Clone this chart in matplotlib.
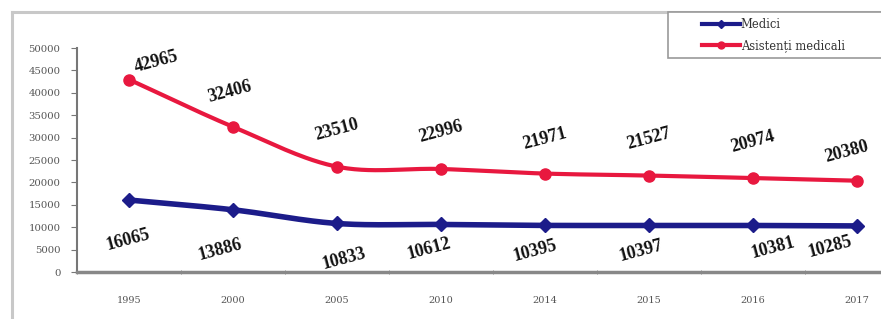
import numpy as np
import matplotlib
matplotlib.use("Agg")
import matplotlib.pyplot as plt
from matplotlib.lines import Line2D
from matplotlib.patches import Rectangle

years = ["1995", "2000", "2005", "2010", "2014", "2015", "2016", "2017"]
medici = [16065, 13886, 10833, 10612, 10395, 10397, 10381, 10285]
asistenti = [42965, 32406, 23510, 22996, 21971, 21527, 20974, 20380]
yticks = [0, 5000, 10000, 15000, 20000, 25000, 30000, 35000, 40000, 45000, 50000]
series_names = ["Medici", "Asistenți medicali"]

# label offsets in pixels (style only)
red_off = [(27, 18), (-3, 35), (0, 37), (0, 37), (0, 35), (0, 37), (0, 36), (-10, 29)]
blue_off = [(-1, -40), (-13, -40), (7, -35), (-12, -24), (-10, -25), (-8, -25), (20, -22), (-27, -21)]


def smooth(x, y, n=30):
    x = np.asarray(x, float)
    y = np.asarray(y, float)
    px = np.concatenate([[2 * x[0] - x[1]], x, [2 * x[-1] - x[-2]]])
    py = np.concatenate([[2 * y[0] - y[1]], y, [2 * y[-1] - y[-2]]])
    xs, ys = [], []
    t = np.linspace(0, 1, n, endpoint=False)
    for i in range(1, len(px) - 2):
        p0, p1, p2, p3 = (np.array([px[j], py[j]]) for j in range(i - 1, i + 3))
        t2, t3 = t * t, t * t * t
        pts = 0.5 * ((2 * p1)[:, None] + (-p0 + p2)[:, None] * t
                     + (2 * p0 - 5 * p1 + 4 * p2 - p3)[:, None] * t2
                     + (-p0 + 3 * p1 - 3 * p2 + p3)[:, None] * t3)
        xs.extend(pts[0]); ys.extend(pts[1])
    xs.append(x[-1]); ys.append(y[-1])
    return np.array(xs), np.array(ys)


W, H = 881, 319
fig = plt.figure(figsize=(W / 100, H / 100), dpi=100)
fig.patch.set_facecolor("white")

# outer frame
fig.add_artist(Line2D([12 / W, 12 / W], [0, 1 - 12 / H], color="#c8c8c8", lw=2.2,
                      transform=fig.transFigure))
fig.add_artist(Line2D([12 / W, 1], [1 - 12 / H, 1 - 12 / H], color="#c8c8c8", lw=2.2,
                      transform=fig.transFigure))

left = 77 / W
bottom = (H - 272) / H
width = 832 / W
height = (272 - 48) / H
ax = fig.add_axes([left, bottom, width, height])
ax.set_facecolor("none")

x = np.arange(len(years))
blue = "#1c1c8a"
red = "#e8183f"

sx, sy = smooth(x, medici)
ax.plot(sx, sy, color=blue, lw=4.0, solid_capstyle="round", zorder=3)
ax.plot(x, medici, ls="none", marker="D", ms=7, color=blue, zorder=4)
sx, sy = smooth(x, asistenti)
ax.plot(sx, sy, color=red, lw=3.0, solid_capstyle="round", zorder=3)
ax.plot(x, asistenti, ls="none", marker="o", ms=8, color=red, zorder=4)

lab_font = dict(family="Liberation Serif", weight="bold", size=13, color="#111111")
for i, v in enumerate(asistenti):
    ax.annotate(str(v), (x[i], v), xytext=red_off[i], textcoords="offset pixels",
                ha="center", va="center", rotation=15, rotation_mode="anchor", **lab_font)
for i, v in enumerate(medici):
    ax.annotate(str(v), (x[i], v), xytext=blue_off[i], textcoords="offset pixels",
                ha="center", va="center", rotation=15, rotation_mode="anchor", **lab_font)

ax.set_xlim(-0.5, len(years) - 0.5)
ax.set_ylim(0, 50000)
ax.set_yticks(yticks)
ax.set_yticklabels([str(t) for t in yticks], family="DejaVu Serif", fontsize=7.3, color="#555555")
ax.set_xticks(x)
ax.set_xticklabels(years, family="DejaVu Serif", fontsize=7, color="#555555")
ax.set_xticks(np.arange(-0.5, len(years), 1), minor=True)
ax.tick_params(axis="x", which="major", length=0, pad=17)
ax.tick_params(axis="x", which="minor", length=3, color="#777777", direction="inout")
ax.tick_params(axis="y", length=4, color="#777777", pad=8)

for s in ["top", "right"]:
    ax.spines[s].set_visible(False)
ax.spines["left"].set_color("#777777")
ax.spines["left"].set_linewidth(1.5)
ax.spines["bottom"].set_color("#888888")
ax.spines["bottom"].set_linewidth(2.5)

# legend frame spanning to the right edge
fig.add_artist(Rectangle((668 / W, 1 - 58 / H), (W - 668) / W + 0.01, 46 / H,
                         transform=fig.transFigure, facecolor="white",
                         edgecolor="#999999", lw=1.2, zorder=5))
handles = [Line2D([], [], color=blue, lw=3, marker="D", ms=4),
           Line2D([], [], color=red, lw=3, marker="o", ms=5)]
leg = fig.legend(handles, series_names, loc="upper left",
                 bbox_to_anchor=(697 / W, 1 - 13 / H),
                 prop=dict(family="DejaVu Serif", size=8.3),
                 frameon=False, handlelength=3.3, handletextpad=0.1,
                 borderpad=0.4, labelspacing=0.7, borderaxespad=0,
                 labelcolor="#333333")
leg.set_zorder(6)

fig.savefig("out.png", dpi=100, facecolor="white")
